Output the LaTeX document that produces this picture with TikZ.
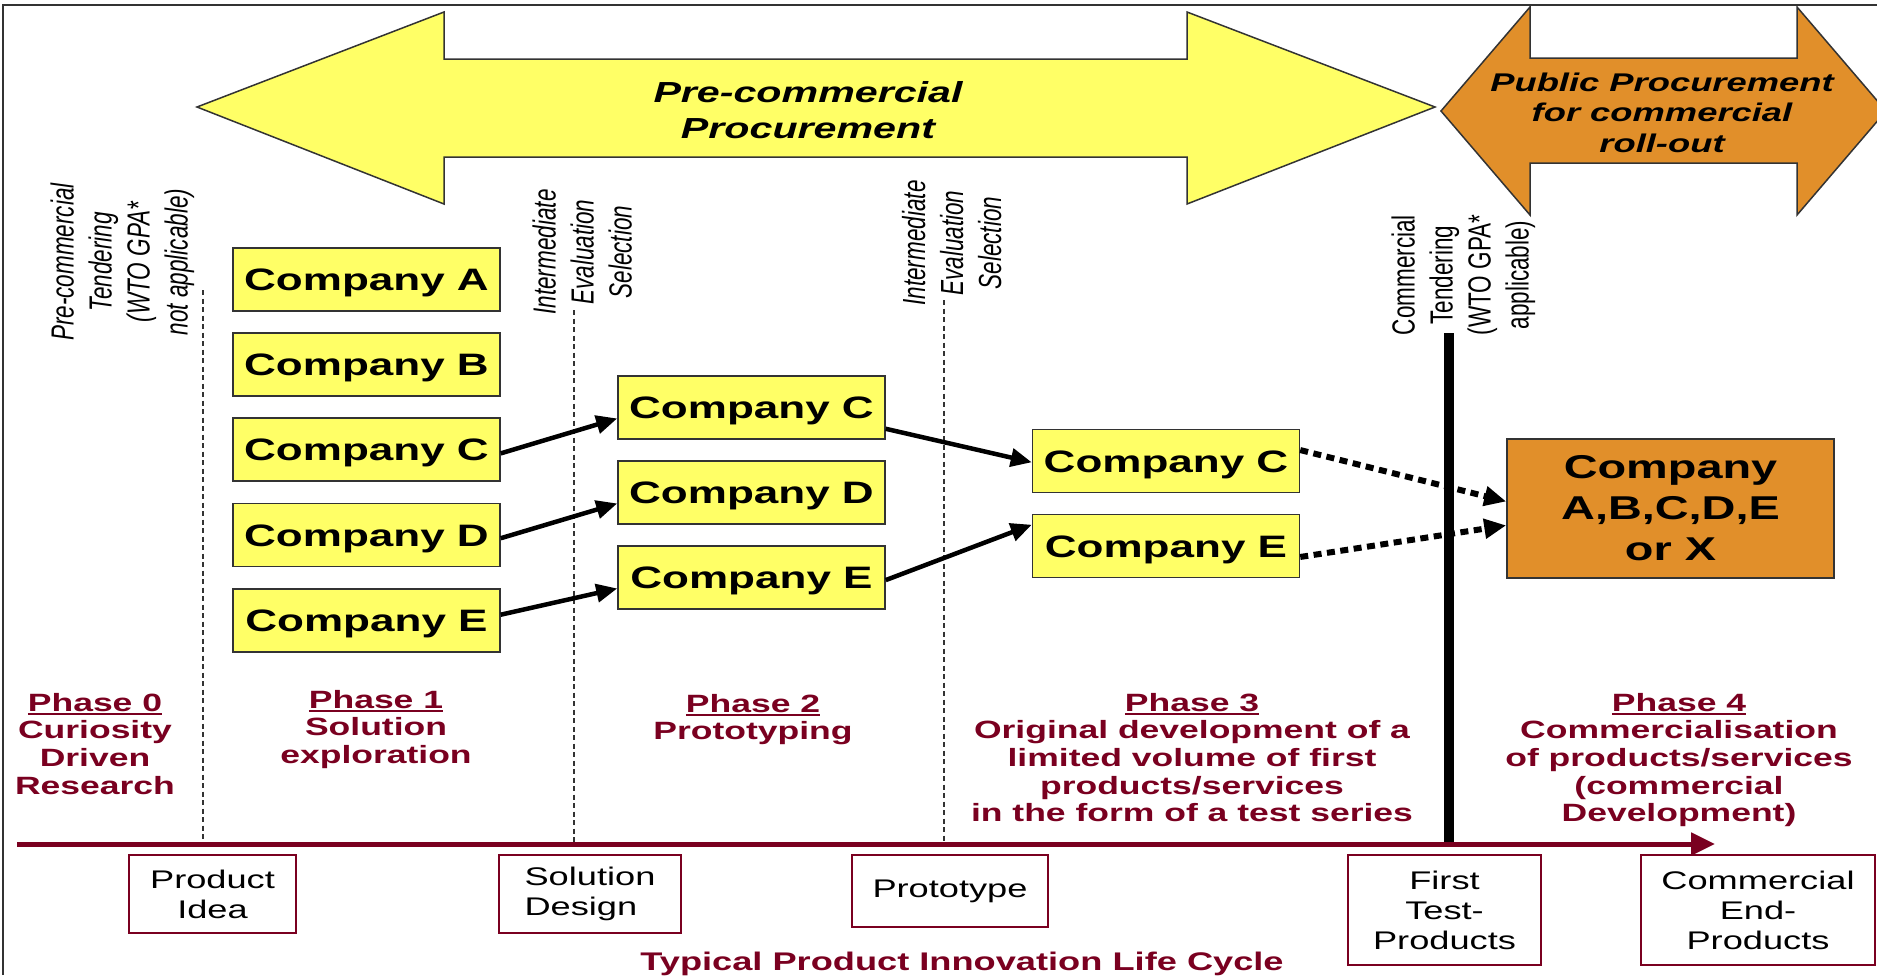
\documentclass[tikz,border=0pt]{standalone}
\usepackage{fontspec}
\usepackage{graphicx}
\setmainfont{Liberation Sans}
\newfontfamily\wf{Liberation Sans}[FakeStretch=1.42]
\usetikzlibrary{arrows.meta,calc}
\definecolor{ylw}{RGB}{255,255,102}
\definecolor{org}{RGB}{225,143,42}
\definecolor{mrn}{RGB}{122,0,32}
\definecolor{edgec}{RGB}{51,51,51}
\newcommand\phul[1]{\setbox0\hbox{#1}\rlap{\rule[-3.5pt]{\wd0}{2pt}}\box0}
\newcommand\rotx[1]{\scalebox{1.42}[1]{\rotatebox{90}{\begin{tabular}{@{}c@{}}#1\end{tabular}}}}
\begin{document}
\begin{tikzpicture}[x=1pt,y=-1pt,
  boxbase/.style={draw=edgec, line width=1.5pt, inner sep=0pt},
  comp/.style={boxbase, fill=ylw, minimum width=267pt, minimum height=63pt,
    font=\wf\bfseries\fontsize{31}{36}\selectfont, text height=22pt, text depth=0pt},
  xbox/.style={boxbase, fill=org, minimum width=327pt, minimum height=139pt, align=center,
    font=\wf\bfseries\fontsize{33}{41}\selectfont},
  bigarrow/.style={draw=edgec, line width=1.5pt, line join=miter},
  sarrow/.style={line width=4.5pt, -{Triangle[length=21pt,width=18pt]}},
  darrow/.style={line width=6pt, dash pattern=on 8pt off 5.5pt, -{Triangle[length=22pt,width=19pt]}},
  sepline/.style={draw=edgec, line width=1.2pt, dash pattern=on 5pt off 3.5pt},
  phase/.style={text=mrn, font=\wf\bfseries\fontsize{25}{27.6}\selectfont, align=center, inner sep=0pt, anchor=north},
  stage/.style={draw=mrn, line width=1.5pt, fill=white, inner sep=0pt, font=\wf\fontsize{25.5}{30}\selectfont, align=center},
  rot/.style={inner sep=0pt, font=\itshape\fontsize{22.5}{26.8}\selectfont},
  rotup/.style={inner sep=0pt, font=\fontsize{22.5}{26.8}\selectfont}
]
\useasboundingbox (0,0) rectangle (1877,975);
\clip (0,0) rectangle (1877,975);
\fill[white] (0,0) rectangle (1877,975);

% frame
\draw[edgec, line width=2pt] (3,975) -- (3,5) -- (1877,5);

% big arrows
\draw[bigarrow, fill=ylw] (197,107) -- (444,12) -- (444,59) -- (1187,59) -- (1187,12) -- (1435,107)
  -- (1187,204) -- (1187,157) -- (444,157) -- (444,204) -- cycle;
\draw[bigarrow, fill=org] (1441,111) -- (1530,7) -- (1530,58) -- (1797,58) -- (1797,7) -- (1886,111)
  -- (1797,215) -- (1797,163) -- (1530,163) -- (1530,215) -- cycle;
\node[anchor=north, inner sep=0pt, align=center, font=\wf\bfseries\itshape\fontsize{29}{36}\selectfont] (pcp) at (808,81) {Pre-commercial\\Procurement};
\node[anchor=north, inner sep=0pt, align=center, font=\wf\bfseries\itshape\fontsize{25.6}{30.5}\selectfont] (ppc) at (1662,72.6) {Public Procurement\\for commercial\\roll-out};

% separators
\draw[sepline] (203,290) -- (203,842);
\draw[sepline] (574,310) -- (574,842);
\draw[sepline] (944,300) -- (944,842);
\draw[line width=10pt] (1449,333) -- (1449,844);

% rotated labels
\node[rot] (pct) at (123,262) {\rotx{Pre-commercial\\Tendering\\(WTO GPA*\\not applicable)}};
\node[rot] (ies1) at (586,252) {\rotx{Intermediate\\Evaluation\\Selection}};
\node[rot] (ies2) at (955.5,243) {\rotx{Intermediate\\Evaluation\\Selection}};
\node[rotup] (ct) at (1464,275) {\rotx{Commercial\\Tendering\\(WTO GPA*\\applicable)}};

% companies
\node[comp] (a1) at (366.5,279.5) {Company A};
\node[comp] (b1) at (366.5,364.5) {Company B};
\node[comp] (c1) at (366.5,449.5) {Company C};
\node[comp] (d1) at (366.5,535) {Company D};
\node[comp] (e1) at (366.5,620.5) {Company E};
\node[comp] (c2) at (751.5,407.5) {Company C};
\node[comp] (d2) at (751.5,492.5) {Company D};
\node[comp] (e2) at (751.5,577.5) {Company E};
\node[comp] (c3) at (1166,461) {Company C};
\node[comp] (e3) at (1166,546) {Company E};
\node[xbox] (x4) at (1670.5,508.5) {Company\\A,B,C,D,E\\or X};

% connectors
\draw[sarrow] ($(c1.north east)!0.56!(c1.south east)$) -- ($(c2.north west)!0.67!(c2.south west)$);
\draw[sarrow] ($(d1.north east)!0.55!(d1.south east)$) -- ($(d2.north west)!0.67!(d2.south west)$);
\draw[sarrow] ($(e1.north east)!0.41!(e1.south east)$) -- ($(e2.north west)!0.67!(e2.south west)$);
\draw[sarrow] ($(c2.north east)!0.83!(c2.south east)$) -- ($(c3.north west)!0.52!(c3.south west)$);
\draw[sarrow] ($(e2.north east)!0.54!(e2.south east)$) -- ($(e3.north west)!0.17!(e3.south west)$);
\draw[darrow] ($(c3.north east)!0.33!(c3.south east)$) -- ($(x4.north west)!0.45!(x4.south west)$);
\draw[darrow] ($(e3.north east)!0.67!(e3.south east)$) -- ($(x4.north west)!0.62!(x4.south west)$);

% timeline
\coordinate (tl0) at (17,844);
\coordinate (tl1) at (1715,844);
\draw[mrn, line width=5pt, -{Triangle[length=24pt,width=22pt]}] (tl0) -- (tl1);

% phases
\node[phase] (p0) at (95,693) {\phul{Phase 0}\\Curiosity\\Driven\\Research};
\node[phase] (p1) at (376,690) {\phul{Phase 1}\\Solution\\exploration};
\node[phase] (p2) at (753,694) {\phul{Phase 2}\\Prototyping};
\node[phase] (p3) at (1192,693) {\phul{Phase 3}\\Original development of a\\limited volume of first\\products/services\\in the form of a test series};
\node[phase] (p4) at (1679,693) {\phul{Phase 4}\\Commercialisation\\of products/services\\(commercial\\Development)};

% stages
\node[stage, minimum width=167pt, minimum height=78pt] (s0) at (212.5,894) {Product\\Idea};
\node[stage, minimum width=182pt, minimum height=78pt, align=left] (s1) at (590,894) {Solution\\Design};
\node[stage, minimum width=196pt, minimum height=72pt] (s2) at (950,891) {Prototype};
\node[stage, minimum width=193pt, minimum height=110pt] (s3) at (1444.5,910) {First\\Test-\\Products};
\node[stage, minimum width=234pt, minimum height=110pt] (s4) at (1758,910) {Commercial\\End-\\Products};

\node[anchor=base, inner sep=0pt, text=mrn, font=\wf\bfseries\fontsize{25.5}{30}\selectfont] (title) at (962,970) {Typical Product Innovation Life Cycle};
\end{tikzpicture}
\end{document}
